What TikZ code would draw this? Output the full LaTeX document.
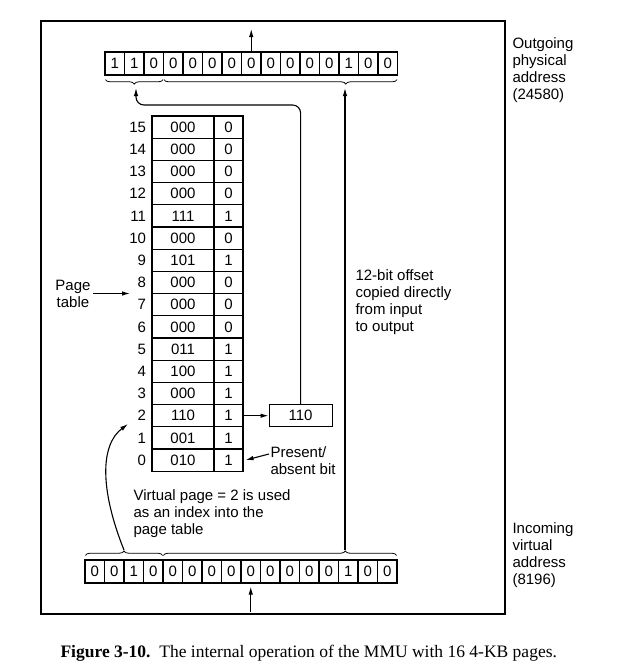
\documentclass[tikz,border=0pt]{standalone}
\usepackage{fontspec}
\setmainfont{Liberation Sans}
\newfontfamily\capfont{Liberation Serif}
\usepackage{tikz}
\usetikzlibrary{arrows.meta,decorations.pathreplacing,positioning}

\begin{document}
\begin{tikzpicture}[x=1pt, y=-1pt, line width=1.1pt,
        font=\fontsize{15}{17}\selectfont,
        bitbox/.style={draw, minimum width=19.5pt, minimum height=23pt, inner sep=0pt},
        framebox/.style={draw, minimum width=62pt, minimum height=22.2pt, inner sep=0pt},
        presbox/.style={draw, minimum width=29pt, minimum height=22.2pt, inner sep=0pt},
        note/.style={align=left, anchor=west, inner sep=1pt},
        ptr/.style={-{Latex[length=8pt, width=4.5pt]}},
        curly/.style={decorate, line width=0.8pt, decoration={brace, amplitude=4.5pt, #1}},
        curly/.default={}]
        \useasboundingbox (0, 0) rectangle (630, 670);
        \draw (41, 21) rectangle (505, 614);

        \foreach \b [count=\i] in {1,1,0,0,0,0,0,0,0,0,0,0,1,0,0}
                \node[bitbox] (out-\i) at ({105+19.5*(\i-0.5)}, 63.5) {\b};
        \foreach \b [count=\i] in {0,0,1,0,0,0,0,0,0,0,0,0,0,1,0,0}
                \node[bitbox] (in-\i) at ({85+19.5*(\i-0.5)}, 571.5) {\b};

        \draw[curly=mirror] ([xshift=1pt, yshift=-4pt]out-1.south west) -- ([xshift=-1pt, yshift=-4pt]out-3.south east);
        \draw[curly={mirror, aspect=0.78}] ([xshift=1pt, yshift=-4pt]out-4.south west) -- ([xshift=-1pt, yshift=-4pt]out-15.south east);
        \draw[curly] ([xshift=1pt, yshift=4pt]in-1.north west) -- ([xshift=-1pt, yshift=4pt]in-4.north east);
        \draw[curly={aspect=0.78}] ([xshift=1pt, yshift=4pt]in-5.north west) -- ([xshift=-1pt, yshift=4pt]in-16.north east);

        \foreach \p/\f/\v [count=\k from 0] in {15/000/0, 14/000/0, 13/000/0, 12/000/0,
                        11/111/1, 10/000/0, 9/101/1, 8/000/0, 7/000/0, 6/000/0,
                        5/011/1, 4/100/1, 3/000/1, 2/110/1, 1/001/1, 0/010/1} {
                \node[framebox] (frame-\p) at (183, {127.1+22.2*\k}) {\f};
                \node[presbox] (bit-\p) at (228.5, {127.1+22.2*\k}) {\v};
                \node[anchor=east, inner sep=0pt] (num-\p) at (146.5, {127.1+22.2*\k}) {\p};
        }

        \node[draw, minimum width=63pt, minimum height=22pt, inner sep=0pt, right=25pt of bit-2] (phys) {110};

        \node[align=center, inner sep=2pt] (ptlabel) at (73, 293.5) {Page\\table};
        \node[note] (offnote) at (354, 302) {12-bit offset\\copied directly\\from input\\to output};
        \node[note] (pabs) at (269, 461) {Present/\\absent bit};
        \node[note] (vnote) at (132, 514) {Virtual page = 2 is used\\as an index into the\\page table};
        \node[note] (outnote) at (511, 70) {Outgoing\\physical\\address\\(24580)};
        \node[note] (innote) at (511, 555.5) {Incoming\\virtual\\address\\(8196)};
        \node[anchor=west, inner sep=0pt] (caption) at (60, 653)
                {\capfont\fontsize{17.5}{19}\selectfont\textbf{Figure 3-10.}\ \ The internal operation of the MMU with 16 4-KB pages.};

        \coordinate (outtop) at (251.25, 29);
        \coordinate (inbot) at (250.75, 612);
        \coordinate (outpage) at (136, 88);
        \coordinate (outoff) at (345, 88);
        \coordinate (inpage) at (124, 550);
        \coordinate (inoff) at (345, 550);
        \coordinate (ptend) at (130, 293.5);
        \coordinate (pgend) at (128, 424);

        \draw[ptr] (out-8.north) -- (outtop);
        \draw[ptr] (inbot) -- ([yshift=-3pt]in-9.south);
        \draw[ptr] (ptlabel.east) -- (ptend);
        \draw[ptr] (bit-2.east) -- (phys.west);
        \draw[ptr, rounded corners=8pt] (phys.north) -- (phys.north |- 0, 105) -- (outpage |- 0, 105) -- (outpage);
        \draw[ptr] (inoff) -- (outoff);
        \draw[ptr] (inpage) .. controls (100, 490) and (100, 445) .. (pgend);
        \draw[ptr] ([yshift=7pt]pabs.west) -- ([xshift=2pt]bit-0.east);
\end{tikzpicture}
\end{document}
